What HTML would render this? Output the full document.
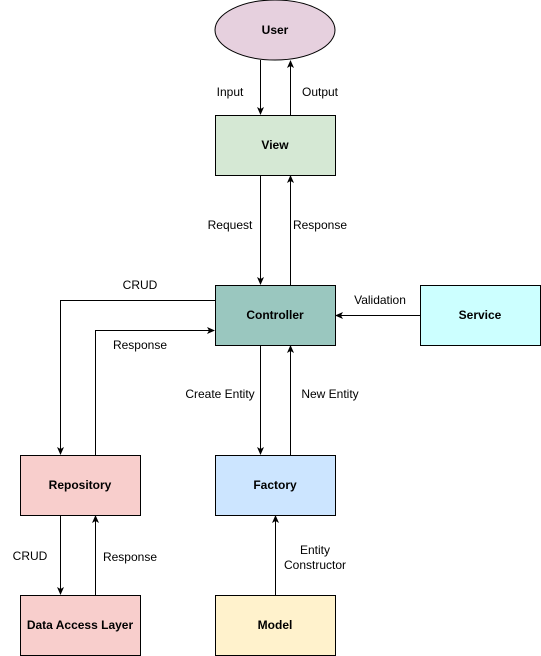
<html><head><style>body{margin:0;background:#fff}</style></head><body>
<svg width="541" height="656" xmlns="http://www.w3.org/2000/svg" font-family="Liberation Sans, sans-serif" font-size="12">
<defs><marker id="a" markerWidth="8" markerHeight="8" refX="7" refY="4" orient="auto" markerUnits="userSpaceOnUse"><path d="M0,0.5 L8,4 L0,7.5 L2,4 Z" fill="#000"/></marker></defs>
<g stroke="#000" stroke-width="1" fill="none" marker-end="url(#a)">
<path d="M260.5,60 V114"/>
<path d="M290.5,115 V61"/>
<path d="M260.5,175 V284"/>
<path d="M290.5,285 V176"/>
<path d="M420,315.5 H336"/>
<path d="M215,300.5 H60.5 V454"/>
<path d="M95.5,455 V330.5 H214"/>
<path d="M260.5,345 V454"/>
<path d="M290.5,455 V346"/>
<path d="M60.5,515 V594"/>
<path d="M95.5,595 V516"/>
<path d="M275.5,595 V516"/>
</g>
<g stroke="#000" font-weight="bold" text-anchor="middle">
<ellipse cx="275" cy="30" rx="60" ry="30" fill="#e6d0de" stroke="#000"/>
<rect x="215.5" y="115.5" width="120" height="60" fill="#d5e8d4"/>
<rect x="215.5" y="285.5" width="120" height="60" fill="#9ac7bf"/>
<rect x="420.5" y="285.5" width="120" height="60" fill="#ccffff"/>
<rect x="20.5" y="455.5" width="120" height="60" fill="#f8cecc"/>
<rect x="215.5" y="455.5" width="120" height="60" fill="#cce5ff"/>
<rect x="20.5" y="595.5" width="120" height="60" fill="#f8cecc"/>
<rect x="215.5" y="595.5" width="120" height="60" fill="#fff2cc"/>
</g>
<g font-weight="bold" text-anchor="middle" fill="#000">
<text x="275" y="34">User</text>
<text x="275" y="149">View</text>
<text x="275" y="319">Controller</text>
<text x="480" y="319">Service</text>
<text x="80" y="489">Repository</text>
<text x="275" y="489">Factory</text>
<text x="80" y="629">Data Access Layer</text>
<text x="275" y="629">Model</text>
</g>
<g text-anchor="middle" fill="#000">
<text x="230" y="96">Input</text>
<text x="320" y="96">Output</text>
<text x="230" y="229">Request</text>
<text x="320" y="229">Response</text>
<text x="380" y="304">Validation</text>
<text x="140" y="289">CRUD</text>
<text x="140" y="349">Response</text>
<text x="220" y="398">Create Entity</text>
<text x="330" y="398">New Entity</text>
<text x="30" y="560">CRUD</text>
<text x="130" y="561">Response</text>
<text x="315" y="554">Entity</text>
<text x="315" y="569">Constructor</text>
</g>
</svg>
</body></html>
